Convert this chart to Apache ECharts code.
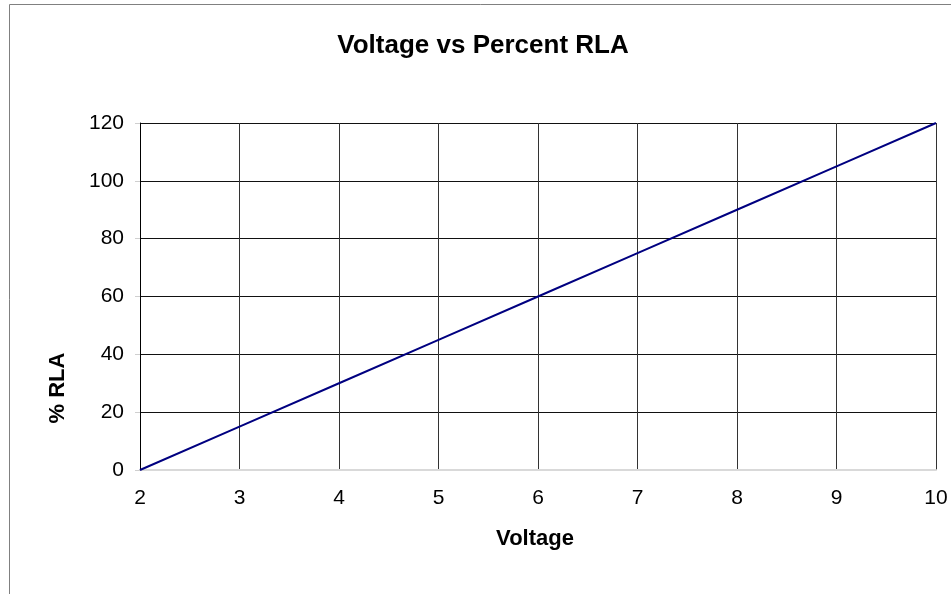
<!DOCTYPE html>
<html>
<head>
<meta charset="utf-8">
<script src="https://cdn.jsdelivr.net/npm/echarts@6/dist/echarts.min.js"></script>
<style>
  html, body { margin: 0; padding: 0; background: #fff; }
  #chart { width: 951px; height: 594px; }
</style>
</head>
<body>
<div id="chart"></div>
<script>
// Voltage (V) against percent of rated load amps
const voltage = [2, 3, 4, 5, 6, 7, 8, 9, 10];
const percentRLA = [0, 15, 30, 45, 60, 75, 90, 105, 120];
const xTicks = { min: 2, max: 10, interval: 1 };
const yTicks = { min: 0, max: 120, interval: 20 };

const FONT = '"Liberation Sans", Arial, sans-serif';
const chart = echarts.init(document.getElementById('chart'), null, { renderer: 'canvas' });

chart.setOption({
  animation: false,
  backgroundColor: '#ffffff',
  title: {
    text: 'Voltage vs Percent RLA',
    left: 478,
    top: 28,
    textAlign: 'center',
    textStyle: { fontFamily: FONT, fontSize: 26, fontWeight: 'bold', color: '#000' }
  },
  grid: { left: 140, right: 15, top: 123, bottom: 124, containLabel: false },
  xAxis: {
    type: 'value',
    min: xTicks.min,
    max: xTicks.max,
    interval: xTicks.interval,
    name: 'Voltage',
    nameLocation: 'middle',
    nameGap: 58,
    nameTextStyle: { fontFamily: FONT, fontSize: 22, fontWeight: 'bold', color: '#000', padding: [0, 6, 0, 0] },
    axisLine: { show: true, lineStyle: { color: '#d9d9d9', width: 2 } },
    axisTick: { show: false },
    axisLabel: { fontFamily: FONT, fontSize: 21, color: '#000', margin: 18 },
    splitLine: { show: true, lineStyle: { color: '#333', width: 1 } }
  },
  yAxis: {
    type: 'value',
    min: yTicks.min,
    max: yTicks.max,
    interval: yTicks.interval,
    axisLine: { show: true, onZero: false, lineStyle: { color: '#000', width: 1 } },
    axisTick: { show: true, length: 5, lineStyle: { color: '#cfcfcf' } },
    axisLabel: { fontFamily: FONT, fontSize: 21, color: '#000', margin: 16, padding: [0, 0, 4, 0] },
    splitLine: { show: true, lineStyle: { color: '#111', width: 1 } }
  },
  graphic: [
    // outer chart frame
    { type: 'line', shape: { x1: 9.5, y1: 4.5, x2: 951, y2: 4.5 }, style: { stroke: '#808080', lineWidth: 1 } },
    { type: 'line', shape: { x1: 9.5, y1: 4.5, x2: 9.5, y2: 594 }, style: { stroke: '#808080', lineWidth: 1 } },
    // y-axis title
    {
      type: 'text',
      x: 58,
      y: 388,
      rotation: Math.PI / 2,
      style: {
        text: '% RLA',
        fontFamily: FONT,
        fontSize: 22,
        fontWeight: 'bold',
        fill: '#000',
        align: 'center',
        verticalAlign: 'middle'
      }
    }
  ],
  series: [{
    type: 'line',
    data: voltage.map((v, i) => [v, percentRLA[i]]),
    showSymbol: false,
    lineStyle: { color: '#000080', width: 2 },
    z: 5
  }]
});
</script>
</body>
</html>
